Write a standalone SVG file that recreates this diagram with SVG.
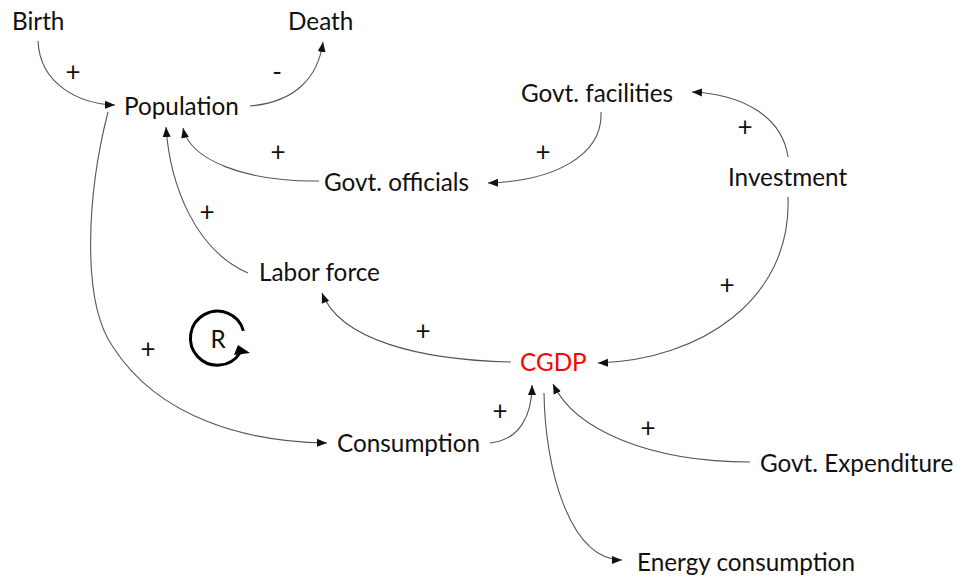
<svg xmlns="http://www.w3.org/2000/svg" width="956" height="577" viewBox="0 0 956 577">
  <style>
    .node { font-family: Lato, "Open Sans", "Liberation Sans", sans-serif; font-size: 24.3px; fill: #111; }
    .red { fill: #ff0000; }
    .sign { font-family: Lato, "Open Sans", "Liberation Sans", sans-serif; font-size: 26px; fill: #111; text-anchor: middle; }
    .link { fill: none; stroke: #555; stroke-width: 1.1; marker-end: url(#head); }
  </style>
  <defs>
    <marker id="head" viewBox="0 0 10 10" refX="10" refY="5" markerWidth="10" markerHeight="10" markerUnits="userSpaceOnUse" orient="auto">
      <path d="M0,1 L10,5 L0,9 Z" fill="#111"/>
    </marker>
  </defs>

  <!-- causal links -->
  <g id="connectors">
    <path class="link" d="M38,41 C40,85 80,104 115,105"/>
    <path class="link" d="M250,106 C295,102 318,78 323,42"/>
    <path class="link" d="M601,112 C603,155 555,181 488,183"/>
    <path class="link" d="M788,157 C782,115 740,94 692,92"/>
    <path class="link" d="M319,181 C245,182 190,160 183,128"/>
    <path class="link" d="M248,273 C195,250 170,185 166,127"/>
    <path class="link" d="M108,112 C88,190 80,300 113,347 C160,420 250,442 327,443"/>
    <path class="link" d="M511,362 C420,360 340,340 322,293"/>
    <path class="link" d="M788,197 C792,300 700,360 598,363"/>
    <path class="link" d="M490,443 C520,440 532,415 532,385"/>
    <path class="link" d="M544,393 C545,470 570,560 622,560"/>
    <path class="link" d="M750,462 C650,462 575,430 553,384"/>
  </g>

  <!-- polarity signs -->
  <g id="signs">
    <text class="sign" x="73" y="81">+</text>
    <text class="sign" x="277" y="81">-</text>
    <text class="sign" x="543" y="161">+</text>
    <text class="sign" x="745" y="136">+</text>
    <text class="sign" x="278" y="161">+</text>
    <text class="sign" x="207" y="221">+</text>
    <text class="sign" x="148" y="358">+</text>
    <text class="sign" x="423" y="340">+</text>
    <text class="sign" x="727" y="294">+</text>
    <text class="sign" x="500" y="420">+</text>
    <text class="sign" x="648" y="437">+</text>
  </g>

  <!-- reinforcing loop marker -->
  <g id="loop-R">
    <path d="M243.4,330.8 A27,27 0 1 0 240,353" fill="none" stroke="#000" stroke-width="3"/>
    <polygon points="238,345 250,353 234,355" fill="#000"/>
    <text class="node" x="218" y="348" font-size="20" text-anchor="middle">R</text>
  </g>

  <g id="birth"><text class="node" x="12" y="30">Birth</text></g>
  <g id="death"><text class="node" x="288" y="30">Death</text></g>
  <g id="population"><text class="node" x="124" y="115">Population</text></g>
  <g id="govt-facilities"><text class="node" x="521" y="102">Govt. facilities</text></g>
  <g id="govt-officials"><text class="node" x="324" y="191">Govt. officials</text></g>
  <g id="investment"><text class="node" x="728" y="186">Investment</text></g>
  <g id="labor-force"><text class="node" x="259" y="281">Labor force</text></g>
  <g id="cgdp"><text class="node red" x="520" y="371">CGDP</text></g>
  <g id="consumption"><text class="node" x="337" y="452">Consumption</text></g>
  <g id="govt-expenditure"><text class="node" x="760" y="472">Govt. Expenditure</text></g>
  <g id="energy-consumption"><text class="node" x="637" y="571">Energy consumption</text></g>
</svg>
